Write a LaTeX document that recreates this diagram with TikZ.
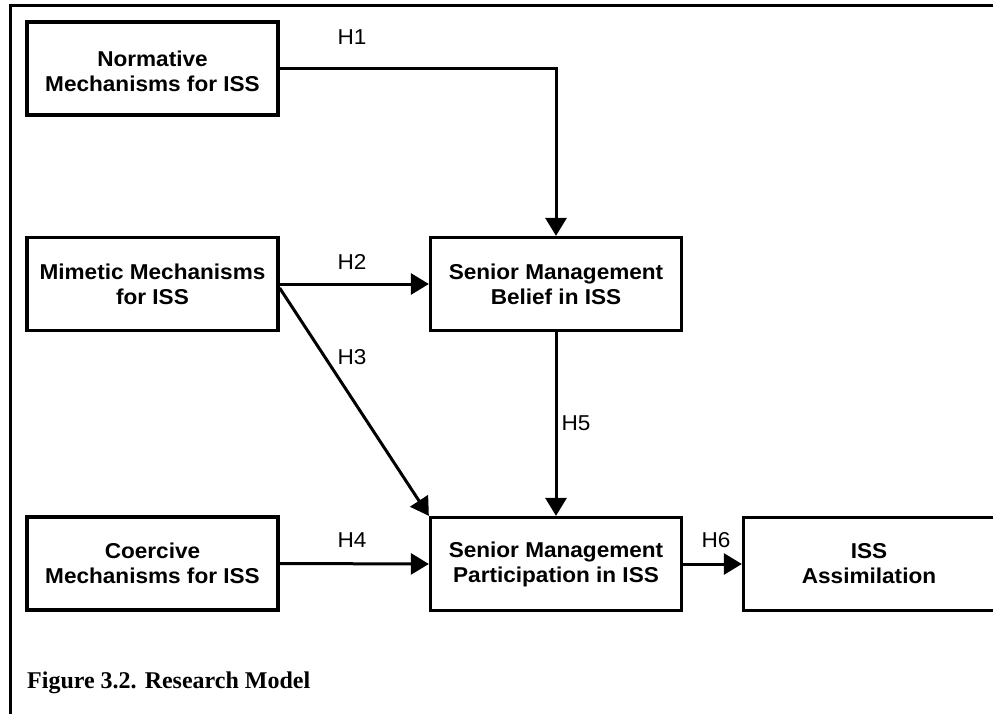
\documentclass[tikz,border=0pt]{standalone}
\usepackage{fontspec}
\setmainfont{Liberation Sans}
\newfontfamily\boxfont[FakeStretch=1.05]{Liberation Sans}
\newfontfamily\capfont{Liberation Serif}
\usetikzlibrary{arrows.meta}
\tikzset{
  box/.style={draw, line width=3.3pt, minimum width=251pt, minimum height=93pt, inner sep=0pt, align=center, font=\boxfont\fontsize{21.5}{25}\selectfont\bfseries},
  conn/.style={line width=3pt, -{Triangle[length=18pt,width=21pt]}},
  hlab/.style={font=\boxfont\fontsize{21.5}{25}\selectfont, inner sep=0pt}
}
\begin{document}
\begin{tikzpicture}[x=1pt,y=-1pt]
\useasboundingbox (0,0) rectangle (993,714);
\draw[line width=3pt] (10,714) -- (10,6) -- (1000,6);
\node[box] (norm) at (152.5,68.5) {\rule{0pt}{22pt}Normative\\Mechanisms for ISS};
\node[box] (mim) at (152.5,284) {Mimetic Mechanisms\\for ISS};
\node[box] (coer) at (152.5,563.5) {Coercive\\Mechanisms for ISS};
\node[box] (smb) at (556,284) {Senior Management\\Belief in ISS};
\node[box] (smp) at (556,564) {Senior Management\\Participation in ISS};
\node[box] (iss) at (869,564) {ISS\\Assimilation};
\coordinate (mimd) at (mim.east |- 0,288);
\draw[conn] (norm.east) -| (smb.north);
\draw[conn] (mim.east) -- (smb.west);
\draw[conn] (mimd) -- (smp.north west);
\draw[conn] (smb.south) -- (smp.north);
\draw[conn] (coer.east) -- (smp.west);
\draw[conn] (smp.east) -- (iss.west);
\node[hlab] (h1) at (352,37) {H1};
\node[hlab] (h2) at (352,262) {H2};
\node[hlab] (h3) at (352,357) {H3};
\node[hlab] (h4) at (352,540) {H4};
\node[hlab] (h5) at (576,423) {H5};
\node[hlab] (h6) at (716,540) {H6};
\node[anchor=base west, inner sep=0pt, font=\capfont\fontsize{24}{28}\selectfont\bfseries] (cap) at (27,688) {Figure 3.2. Research Model};
\end{tikzpicture}
\end{document}
